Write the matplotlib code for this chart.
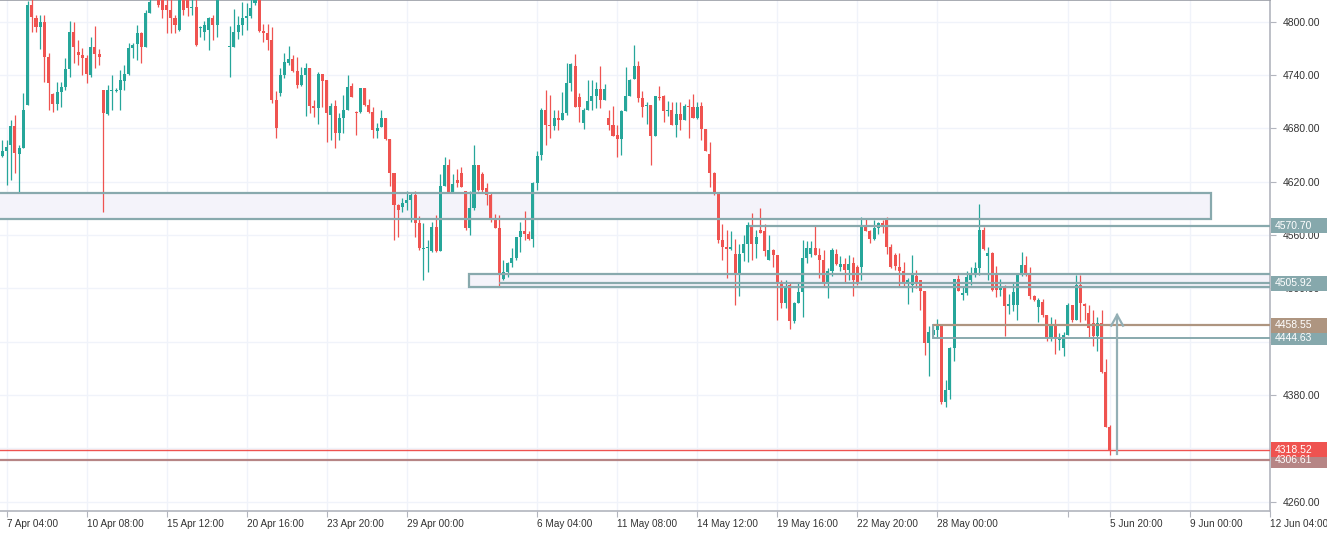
import matplotlib
matplotlib.use("Agg")
import matplotlib.pyplot as plt
from matplotlib.patches import Rectangle
from matplotlib.transforms import blended_transform_factory
import numpy as np

plt.rcParams['font.family'] = ['Liberation Sans', 'DejaVu Sans']

# OHLC velas de 4 horas
opens = [4649, 4655, 4661, 4683, 4651, 4658, 4706, 4819, 4804, 4794, 4800, 4760, 4719, 4707, 4721, 4727,
         4747, 4788, 4766, 4763, 4759, 4740, 4771, 4764, 4723, 4696, 4722, 4722, 4723, 4733, 4741, 4770,
         4775, 4787, 4771, 4810, 4830, 4828, 4824, 4819, 4813, 4804, 4791, 4827, 4824, 4815, 4817, 4793,
         4788, 4791, 4804, 4796, 4828, 4838, 4771, 4771, 4788, 4796, 4804, 4806, 4821, 4826, 4790, 4787,
         4779, 4712, 4720, 4740, 4754, 4758, 4745, 4729, 4740, 4748, 4705, 4703, 4741, 4734, 4695, 4705,
         4675, 4692, 4701, 4728, 4698, 4698, 4725, 4706, 4698, 4677, 4681, 4692, 4668, 4630, 4594, 4592,
         4596, 4599, 4605, 4574, 4544, 4545, 4542, 4569, 4542, 4615, 4639, 4608, 4622, 4630, 4609, 4568,
         4590, 4639, 4629, 4613, 4605, 4577, 4568, 4511, 4518, 4529, 4534, 4558, 4565, 4561, 4555, 4619,
         4650, 4701, 4684, 4683, 4692, 4689, 4697, 4731, 4750, 4715, 4686, 4701, 4711, 4716, 4724, 4712,
         4692, 4684, 4673, 4668, 4700, 4716, 4736, 4750, 4714, 4705, 4706, 4671, 4715, 4716, 4700, 4701,
         4684, 4696, 4689, 4705, 4704, 4692, 4705, 4679, 4651, 4630, 4606, 4554, 4546, 4544, 4539, 4517,
         4540, 4550, 4571, 4550, 4566, 4564, 4532, 4543, 4537, 4507, 4483, 4504, 4463, 4484, 4496, 4534,
         4539, 4545, 4538, 4532, 4506, 4520, 4539, 4524, 4527, 4521, 4528, 4524, 4524, 4569, 4565, 4556,
         4568, 4573, 4577, 4547, 4538, 4524, 4520, 4507, 4504, 4514, 4509, 4497, 4439, 4447, 4453, 4458,
         4372, 4386, 4433, 4510, 4493, 4495, 4509, 4516, 4523, 4566, 4536, 4540, 4515, 4498, 4501, 4480,
         4481, 4481, 4516, 4526, 4515, 4491, 4479, 4485, 4470, 4444, 4460, 4442, 4433, 4448, 4481, 4464,
         4504, 4482, 4472, 4461, 4446, 4461, 4406, 4344]
highs = [4667, 4667, 4689, 4695, 4661, 4720, 4823, 4826, 4808, 4808, 4808, 4765, 4720, 4732, 4732, 4759,
         4801, 4800, 4779, 4770, 4763, 4783, 4795, 4769, 4723, 4729, 4740, 4725, 4746, 4751, 4776, 4776,
         4796, 4788, 4813, 4827, 4840, 4833, 4830, 4826, 4826, 4808, 4830, 4830, 4828, 4826, 4826, 4795,
         4801, 4805, 4808, 4831, 4845, 4848, 4795, 4814, 4806, 4822, 4821, 4826, 4830, 4830, 4797, 4797,
         4794, 4722, 4748, 4765, 4773, 4763, 4760, 4749, 4754, 4748, 4712, 4743, 4741, 4734, 4709, 4712,
         4697, 4718, 4740, 4731, 4700, 4725, 4725, 4713, 4704, 4686, 4701, 4692, 4668, 4630, 4595, 4602,
         4609, 4607, 4609, 4581, 4574, 4554, 4575, 4583, 4629, 4648, 4646, 4629, 4634, 4637, 4609, 4609,
         4661, 4639, 4631, 4619, 4607, 4584, 4583, 4532, 4530, 4545, 4558, 4575, 4587, 4564, 4620, 4654,
         4703, 4723, 4718, 4701, 4701, 4721, 4753, 4753, 4764, 4720, 4703, 4734, 4734, 4732, 4750, 4730,
         4701, 4705, 4684, 4701, 4749, 4736, 4774, 4756, 4722, 4710, 4706, 4716, 4728, 4718, 4711, 4710,
         4710, 4710, 4707, 4713, 4719, 4710, 4710, 4679, 4665, 4631, 4607, 4572, 4566, 4565, 4555, 4550,
         4560, 4575, 4585, 4566, 4590, 4572, 4560, 4544, 4537, 4509, 4509, 4506, 4485, 4506, 4554, 4553,
         4553, 4570, 4545, 4543, 4523, 4545, 4544, 4536, 4534, 4538, 4535, 4526, 4580, 4578, 4566, 4577,
         4575, 4577, 4580, 4550, 4540, 4540, 4530, 4512, 4538, 4521, 4509, 4497, 4458, 4458, 4466, 4458,
         4397, 4434, 4510, 4515, 4501, 4520, 4524, 4530, 4595, 4569, 4546, 4541, 4525, 4511, 4504, 4494,
         4507, 4516, 4541, 4536, 4524, 4493, 4489, 4488, 4470, 4468, 4465, 4450, 4451, 4483, 4481, 4515,
         4515, 4484, 4481, 4476, 4468, 4476, 4420, 4346]
lows = [4648, 4616, 4622, 4630, 4607, 4658, 4706, 4788, 4788, 4769, 4732, 4701, 4698, 4701, 4704, 4723,
        4738, 4754, 4751, 4740, 4731, 4738, 4748, 4751, 4586, 4695, 4701, 4721, 4701, 4723, 4740, 4759,
        4757, 4754, 4771, 4810, 4826, 4816, 4804, 4787, 4787, 4787, 4790, 4808, 4806, 4808, 4773, 4783,
        4779, 4768, 4779, 4783, 4826, 4826, 4738, 4771, 4781, 4785, 4791, 4804, 4819, 4788, 4777, 4768,
        4709, 4669, 4716, 4737, 4751, 4743, 4725, 4728, 4694, 4697, 4693, 4685, 4704, 4665, 4667, 4658,
        4667, 4675, 4701, 4715, 4673, 4697, 4705, 4697, 4669, 4669, 4681, 4667, 4615, 4554, 4558, 4586,
        4588, 4575, 4558, 4543, 4509, 4518, 4541, 4541, 4542, 4615, 4607, 4607, 4614, 4614, 4566, 4560,
        4588, 4609, 4607, 4594, 4575, 4568, 4502, 4509, 4513, 4524, 4532, 4541, 4554, 4554, 4546, 4611,
        4644, 4661, 4669, 4678, 4678, 4689, 4695, 4722, 4704, 4687, 4679, 4701, 4701, 4703, 4703, 4712,
        4678, 4671, 4648, 4650, 4699, 4716, 4735, 4710, 4693, 4685, 4639, 4671, 4712, 4687, 4694, 4684,
        4670, 4678, 4689, 4669, 4692, 4691, 4667, 4655, 4614, 4605, 4551, 4532, 4512, 4543, 4481, 4491,
        4531, 4530, 4532, 4534, 4562, 4536, 4532, 4524, 4464, 4478, 4478, 4454, 4461, 4484, 4468, 4528,
        4535, 4538, 4512, 4503, 4489, 4514, 4526, 4519, 4507, 4509, 4491, 4504, 4509, 4565, 4551, 4554,
        4561, 4562, 4539, 4523, 4521, 4501, 4501, 4482, 4496, 4500, 4476, 4425, 4401, 4444, 4444, 4370,
        4367, 4375, 4418, 4497, 4487, 4493, 4504, 4513, 4515, 4543, 4509, 4497, 4490, 4491, 4446, 4471,
        4474, 4464, 4514, 4514, 4488, 4486, 4462, 4468, 4441, 4441, 4426, 4431, 4424, 4448, 4462, 4464,
        4462, 4464, 4445, 4435, 4429, 4405, 4344, 4312]
closes = [4655, 4659, 4683, 4652, 4658, 4701, 4819, 4805, 4794, 4800, 4760, 4731, 4707, 4721, 4727, 4747,
          4788, 4771, 4763, 4759, 4741, 4771, 4764, 4760, 4697, 4723, 4723, 4723, 4734, 4741, 4770, 4774,
          4787, 4771, 4810, 4822, 4835, 4819, 4813, 4813, 4804, 4796, 4827, 4813, 4815, 4817, 4774, 4794,
          4796, 4804, 4796, 4828, 4838, 4830, 4772, 4788, 4796, 4804, 4806, 4815, 4827, 4789, 4787, 4779,
          4712, 4680, 4740, 4755, 4758, 4745, 4729, 4740, 4748, 4705, 4703, 4741, 4733, 4697, 4705, 4675,
          4692, 4701, 4727, 4715, 4697, 4725, 4706, 4698, 4678, 4680, 4692, 4668, 4630, 4594, 4588, 4596,
          4599, 4605, 4574, 4545, 4545, 4547, 4569, 4542, 4615, 4639, 4607, 4617, 4618, 4614, 4568, 4590,
          4639, 4611, 4611, 4605, 4577, 4568, 4515, 4518, 4529, 4534, 4558, 4565, 4561, 4555, 4619, 4649,
          4701, 4684, 4683, 4692, 4689, 4697, 4731, 4752, 4704, 4704, 4701, 4711, 4716, 4724, 4712, 4724,
          4684, 4671, 4668, 4700, 4716, 4734, 4750, 4714, 4704, 4706, 4671, 4716, 4714, 4700, 4701, 4684,
          4696, 4689, 4705, 4704, 4692, 4704, 4679, 4655, 4630, 4607, 4554, 4546, 4544, 4546, 4517, 4539,
          4550, 4571, 4550, 4558, 4562, 4542, 4543, 4537, 4507, 4483, 4500, 4463, 4484, 4496, 4534, 4545,
          4545, 4538, 4532, 4506, 4520, 4543, 4527, 4527, 4521, 4527, 4509, 4507, 4569, 4565, 4556, 4568,
          4573, 4570, 4547, 4524, 4525, 4519, 4507, 4509, 4515, 4507, 4497, 4439, 4451, 4453, 4458, 4372,
          4386, 4433, 4510, 4497, 4495, 4513, 4516, 4523, 4566, 4544, 4540, 4498, 4498, 4501, 4480, 4482,
          4496, 4516, 4526, 4515, 4491, 4487, 4487, 4470, 4444, 4460, 4443, 4444, 4448, 4481, 4464, 4504,
          4483, 4480, 4455, 4446, 4461, 4406, 4344, 4318.52]

# eje de tiempo (posición de vela -> etiqueta)
tick_pos = [1, 20, 39, 58, 77, 96, 127, 146, 165, 184, 203, 222, 253, 263, 282, 301]
tick_labels = ["7 Apr 04:00", "10 Apr 08:00", "15 Apr 12:00", "20 Apr 16:00", "23 Apr 20:00",
               "29 Apr 00:00", "6 May 04:00", "11 May 08:00", "14 May 12:00", "19 May 16:00",
               "22 May 20:00", "28 May 00:00", "", "5 Jun 20:00", "9 Jun 00:00", "12 Jun 04:00"]
price_ticks = list(range(4260, 4801, 60))
ocultas = [4320, 4440]  # quedan tapadas por las marcas de precio

# dibujos: zonas, niveles y marcas de precio
zona_alta = (4578, 4607)
zona_baja = (4501, 4516)
zona_soporte = (4444.63, 4458.55)
niveles = [4570.70, 4505.92]
linea_roja = 4318.52
linea_min = 4306.61
flecha = (4314, 4470)
marcas = [(4306.61, '#b68585'), (4318.52, '#ef5350'), (4444.63, '#86a8ac'),
          (4458.55, '#ae9580'), (4505.92, '#86a8ac'), (4570.70, '#86a8ac')]

VERDE = '#26a69a'
ROJO = '#ef5350'
GRIS = '#88a9ad'

fig = plt.figure(figsize=(13.27, 5.33), dpi=100)
ax = fig.add_axes([0, 1 - 511 / 533, 1270 / 1327, 511 / 533])

o = np.array(opens, dtype=float)
h = np.array(highs, dtype=float)
l = np.array(lows, dtype=float)
c = np.array(closes, dtype=float)
idx = np.arange(len(o))
col = np.where(c >= o, VERDE, ROJO)

ax.vlines(idx, l, h, colors=col, linewidth=0.9, zorder=3)
ax.bar(idx, np.maximum(np.abs(c - o), 1.2), bottom=np.minimum(o, c), width=0.72,
       color=col, linewidth=0, zorder=3)

# zonas rectangulares
ax.add_patch(Rectangle((-5, zona_alta[0]), 292, zona_alta[1] - zona_alta[0],
                       facecolor='#f4f3fa', edgecolor='none', zorder=1))
ax.add_patch(Rectangle((-5, zona_alta[0]), 292, zona_alta[1] - zona_alta[0],
                       fill=False, edgecolor=GRIS, linewidth=1.6, zorder=4))
ax.add_patch(Rectangle((110.8, zona_baja[0]), 200, zona_baja[1] - zona_baja[0],
                       facecolor='#f4f3fa', edgecolor='none', zorder=1))
ax.add_patch(Rectangle((110.8, zona_baja[0]), 200, zona_baja[1] - zona_baja[0],
                       fill=False, edgecolor=GRIS, linewidth=1.6, zorder=4))
ax.add_patch(Rectangle((221, zona_soporte[0]), 90, zona_soporte[1] - zona_soporte[0],
                       fill=False, edgecolor=GRIS, linewidth=1.4, zorder=4))

ax.hlines(niveles[0], 177.2, 310, colors=GRIS, linewidth=1.6, zorder=4)
ax.hlines(niveles[1], 118, 310, colors=GRIS, linewidth=1.6, zorder=4)
ax.hlines(zona_soporte[1], 221, 310, colors='#ae9580', linewidth=1.6, zorder=4)
ax.hlines(linea_min, -5, 310, colors='#b68585', linewidth=1.6, zorder=4)
ax.hlines(linea_roja, -5, 310, colors=ROJO, linewidth=1.0, zorder=4)

# flecha vertical
ax.plot([264.7, 264.7], flecha, color='#93afb5', linewidth=1.6, zorder=5)
ax.plot([263.3, 264.7, 266.1], [flecha[1] - 12, flecha[1], flecha[1] - 12],
        color='#93afb5', linewidth=1.6, zorder=5, solid_joinstyle='miter')

ax.set_xlim(-0.55, 301.0)
ax.set_ylim(4249.5, 4824.4)

ax.yaxis.tick_right()
ax.set_yticks(price_ticks)
ax.set_yticklabels(["" if p in ocultas else f"{p:.2f}" for p in price_ticks])
ax.set_xticks(tick_pos)
ax.set_xticklabels(tick_labels)
for t in ax.get_xticklabels():
    t.set_ha('left')

ax.tick_params(axis='y', direction='out', length=4, width=0.8, color='#b2b5be',
               labelsize=7.5, labelcolor='#333333', pad=5)
ax.tick_params(axis='x', direction='out', length=4, width=0.8, color='#b2b5be',
               labelsize=7.2, labelcolor='#333333', pad=2)
ax.grid(True, color='#f0f3fa', linewidth=1.0, zorder=0)
ax.set_axisbelow(True)

ax.spines['left'].set_visible(False)
for s in ['top', 'right', 'bottom']:
    ax.spines[s].set_color('#b2b5be')
    ax.spines[s].set_linewidth(1.2)
ax.spines['top'].set_color('#9a9da5')

# etiquetas de precio en el eje derecho
trans = blended_transform_factory(ax.transAxes, ax.transData)
for precio, color in marcas:
    ax.add_patch(Rectangle((1.001, precio - 8.4), 0.05, 16.8, transform=trans,
                           facecolor=color, edgecolor='none', clip_on=False, zorder=6))
    ax.text(1.0035, precio, f"{precio:.2f}", transform=trans, color='white',
            fontsize=7.5, va='center', ha='left', clip_on=False, zorder=7)

fig.savefig("out.png", dpi=100)
